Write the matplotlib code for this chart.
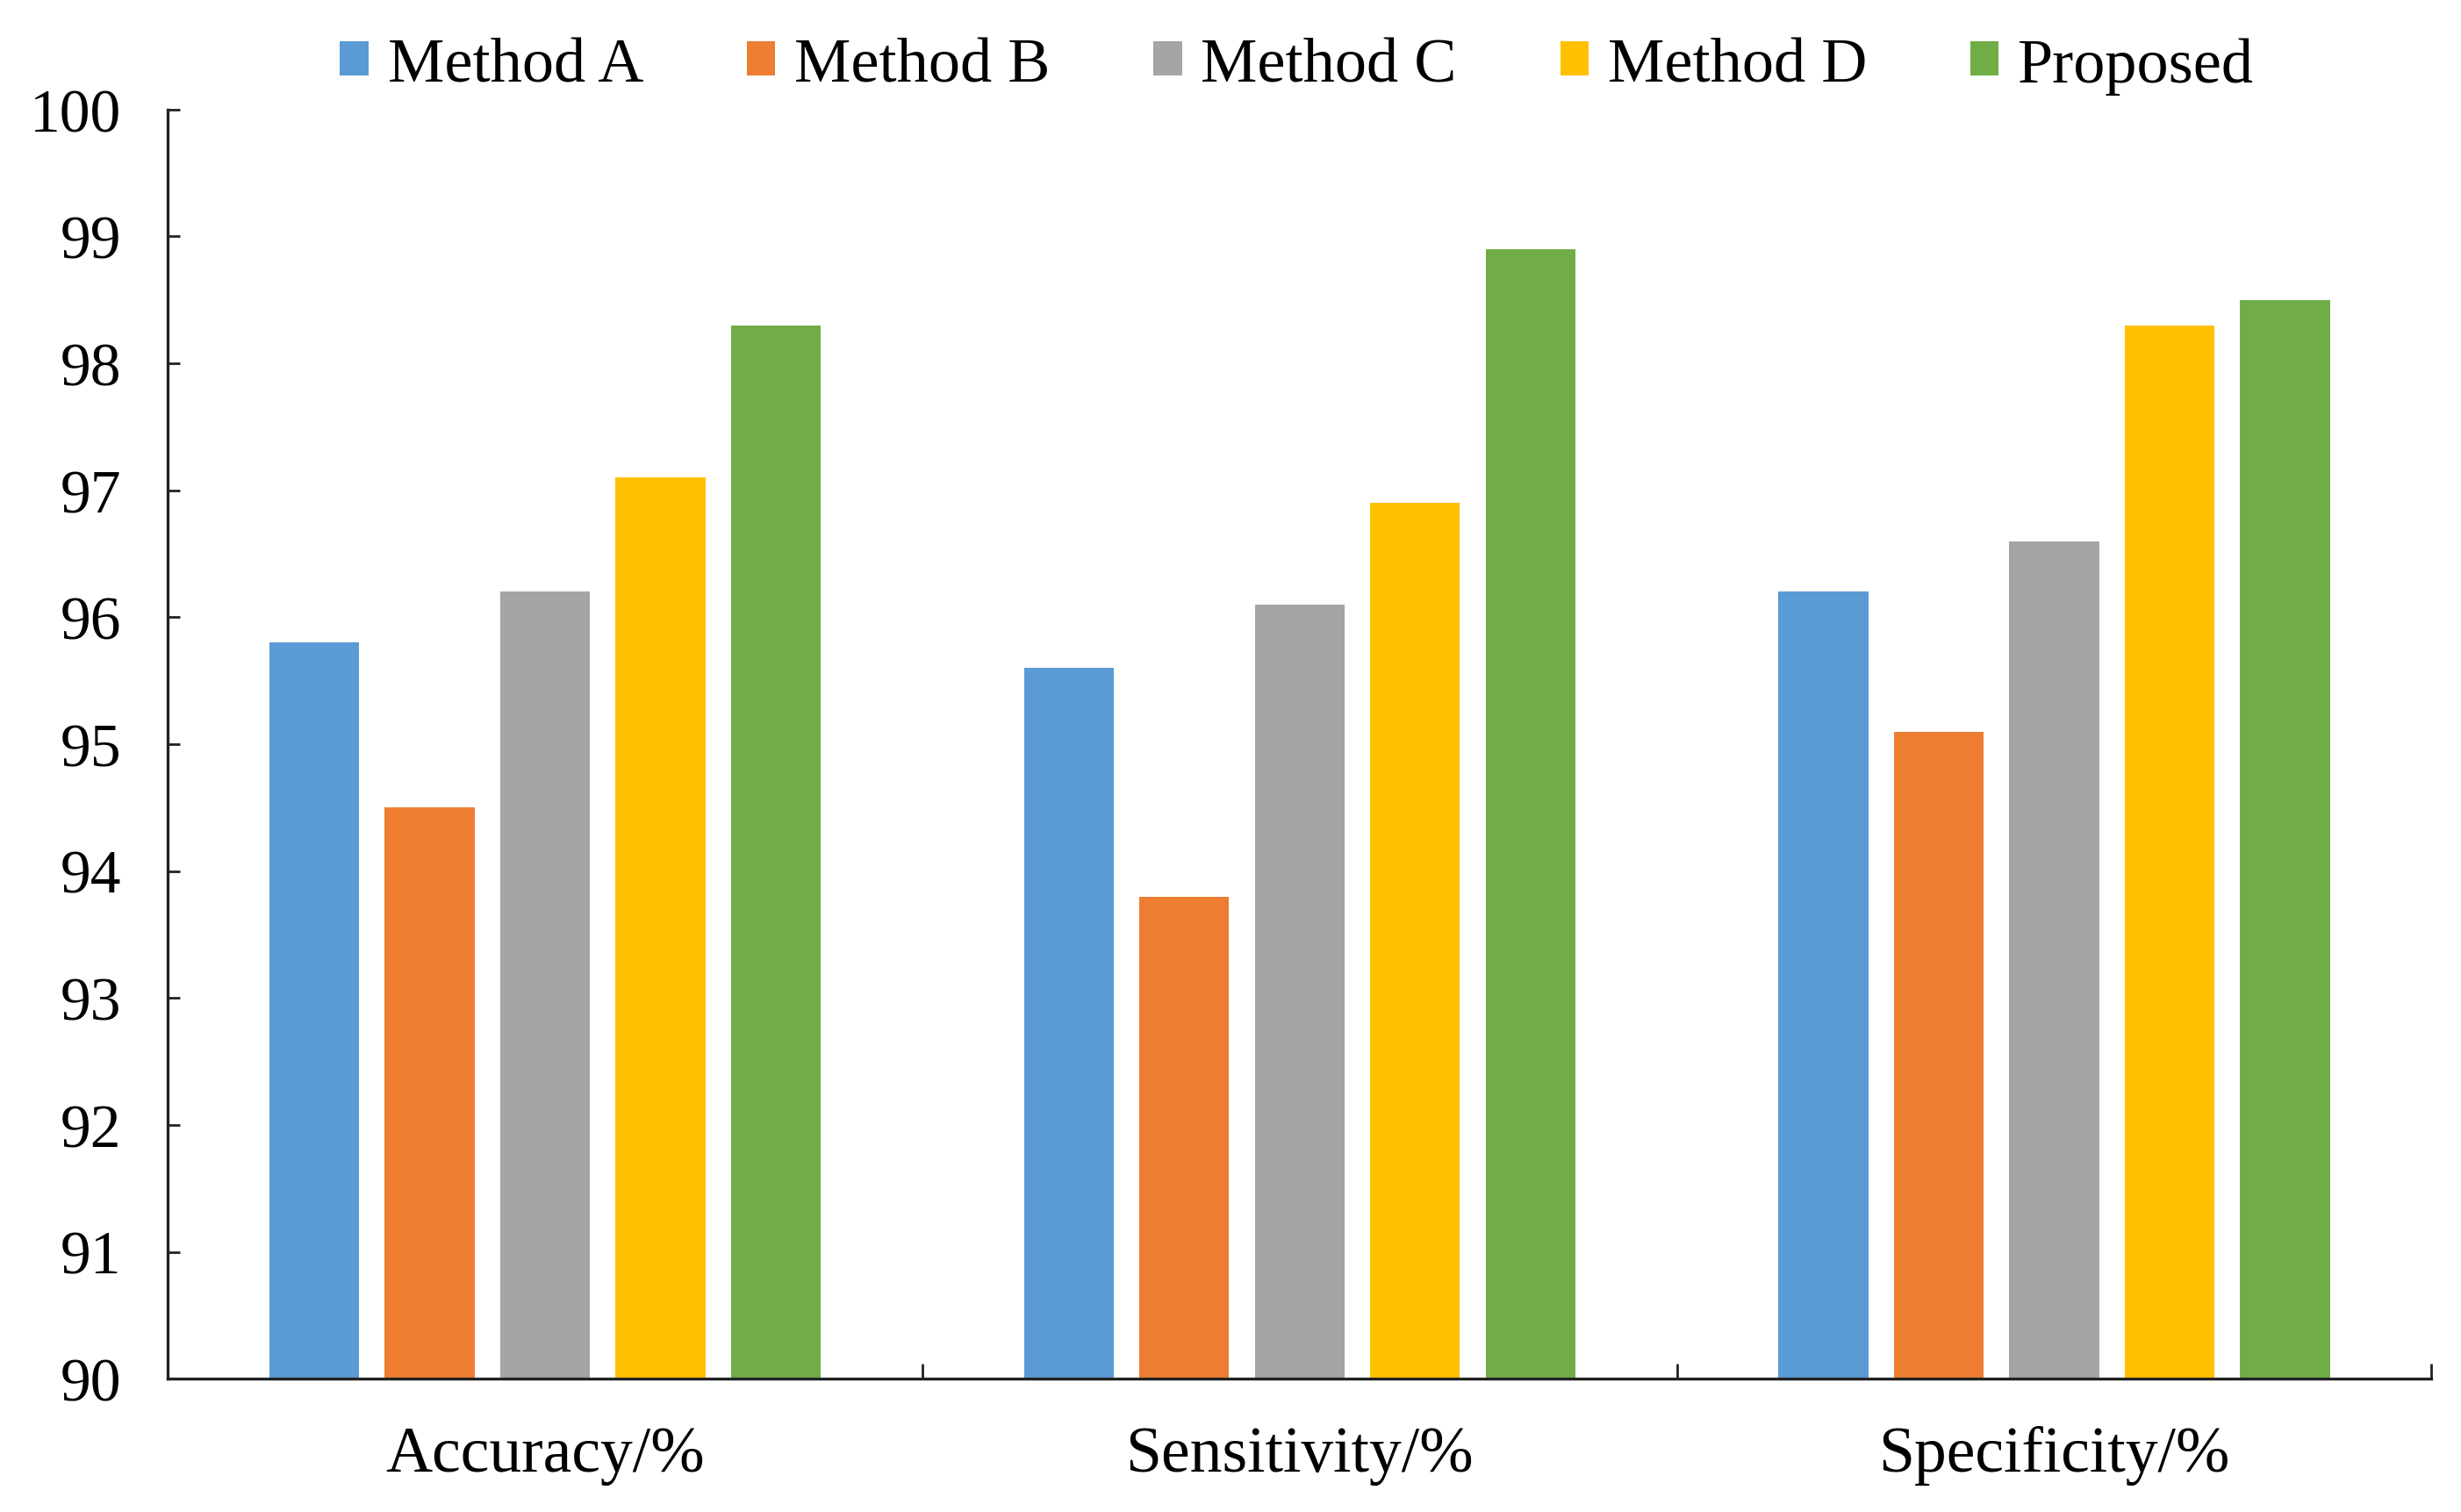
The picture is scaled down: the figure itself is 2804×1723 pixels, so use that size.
import matplotlib
matplotlib.use("Agg")
import matplotlib.pyplot as plt
import numpy as np

categories = ["Accuracy/%", "Sensitivity/%", "Specificity/%"]
methods = ["Method A", "Method B", "Method C", "Method D", "Proposed"]
method_a = [95.8, 95.6, 96.2]
method_b = [94.5, 93.8, 95.1]
method_c = [96.2, 96.1, 96.6]
method_d = [97.1, 96.9, 98.3]
proposed = [98.3, 98.9, 98.5]
series = [method_a, method_b, method_c, method_d, proposed]
colors = ["#5B9BD5", "#ED7D31", "#A5A5A5", "#FFC000", "#70AD47"]
yticks = [90, 91, 92, 93, 94, 95, 96, 97, 98, 99, 100]

plt.rcParams['font.family'] = ['Liberation Serif', 'DejaVu Serif']

fig = plt.figure(figsize=(14.02, 8.62), dpi=200)
ax = fig.add_axes([0.0682, 0.088, 0.9198, 0.839])

x = np.arange(len(categories))
step = 0.153
width = 0.119
for i, (vals, col, name) in enumerate(zip(series, colors, methods)):
    ax.bar(x + (i - 2) * step, np.array(vals) - 90, bottom=90, width=width,
           color=col, label=name, zorder=2)

ax.set_xlim(-0.5, 2.5)
ax.set_ylim(90, 100)
ax.set_yticks(yticks)
ax.set_yticklabels([str(t) for t in yticks], fontsize=25)
ax.set_xticks(x)
ax.set_xticklabels(categories, fontsize=26.5)
ax.set_xticks([-0.5, 0.5, 1.5, 2.5], minor=True)
ax.tick_params(axis='x', which='major', length=0, pad=19)
ax.tick_params(axis='x', which='minor', direction='in', length=6, width=1.0, color='#222222')
ax.tick_params(axis='y', direction='in', length=5, width=1.0, pad=19, color='#222222')

for s in ['top', 'right']:
    ax.spines[s].set_visible(False)
for s in ['left', 'bottom']:
    ax.spines[s].set_linewidth(1.2)
    ax.spines[s].set_color('#222222')

fig.legend(loc='center', bbox_to_anchor=(0.527, 0.956), ncol=5, frameon=False,
           fontsize=26, handlelength=0.45, handleheight=0.45, handletextpad=0.3,
           columnspacing=1.63)

fig.savefig("out.png", dpi=200)
